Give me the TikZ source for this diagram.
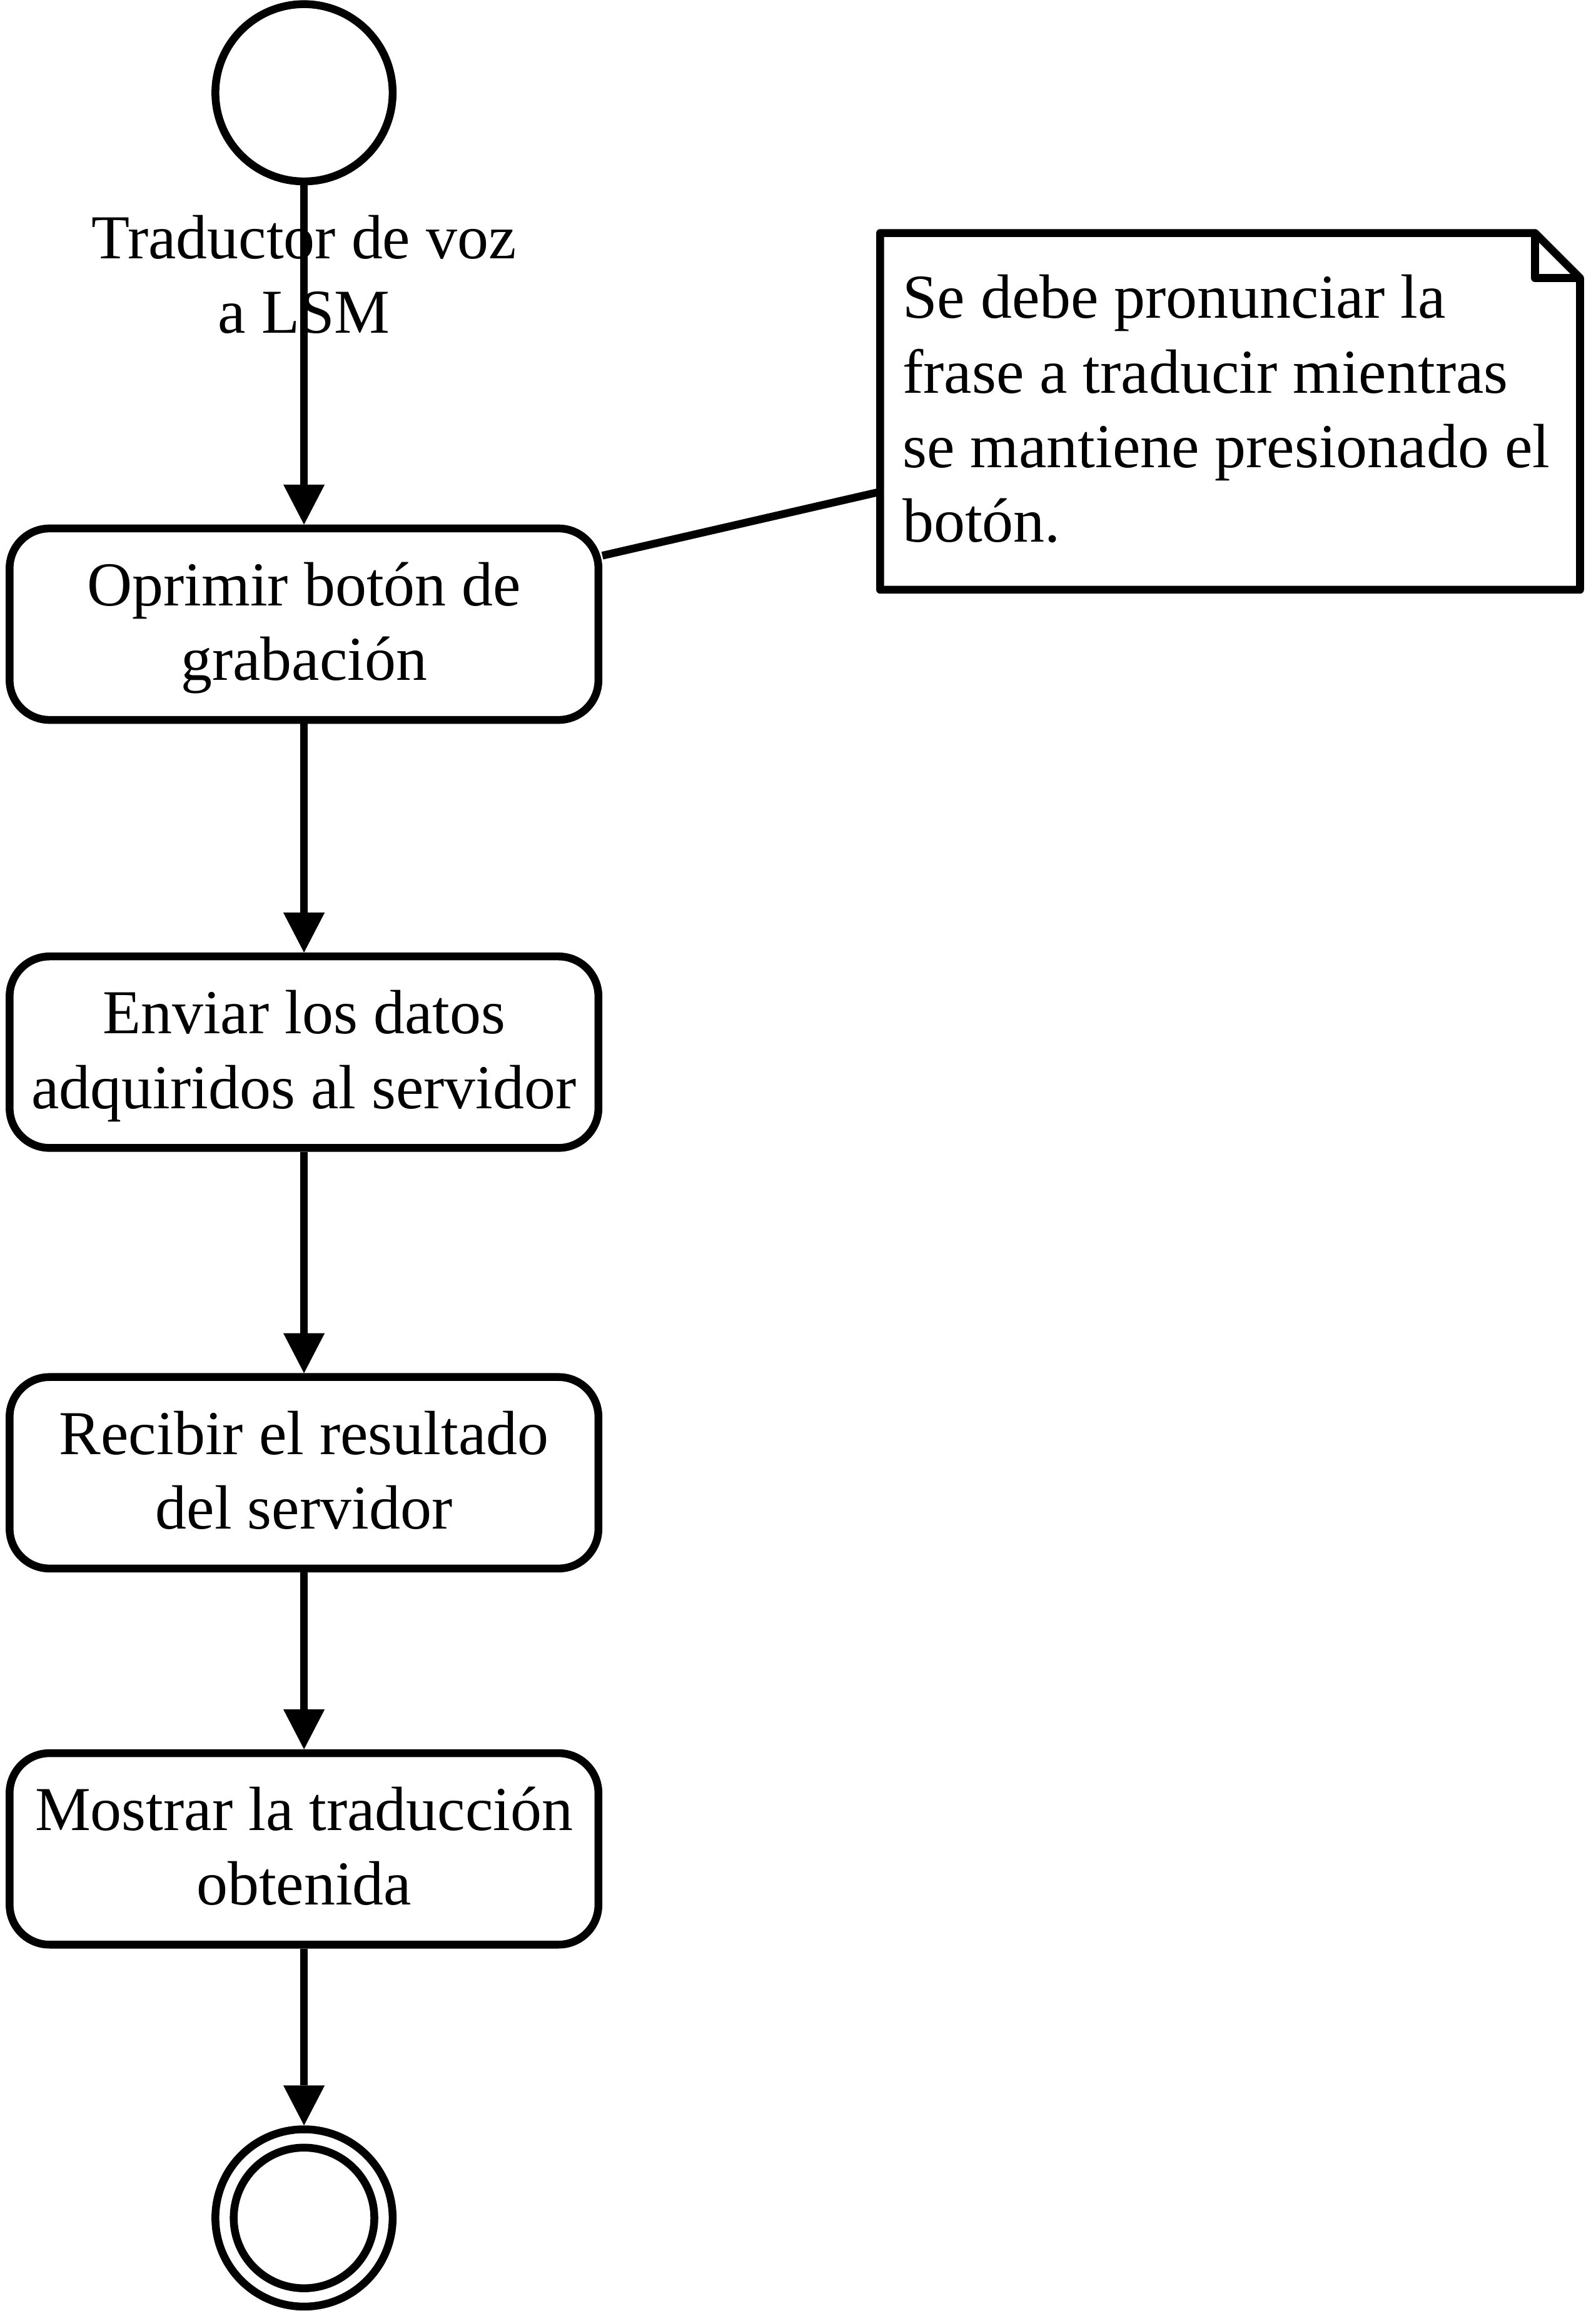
\documentclass[tikz,border=0pt]{standalone}
\usepackage{fontspec}
\setmainfont{Liberation Serif}
\usetikzlibrary{arrows.meta}
\newcommand{\topst}{\rule{0pt}{17.75pt}}
\newcommand{\botst}{\rule[-5pt]{0pt}{5pt}}
\begin{document}
\begin{tikzpicture}[x=0.5pt,y=-0.5pt,
  lw/.style={line width=2.65pt},
  txtfont/.style={font=\fontsize{21.15pt}{25.25pt}\selectfont, inner sep=0pt},
  txt/.style={txtfont, align=center},
  activity/.style={lw, draw, rounded corners=13.5pt, minimum width=199.3pt, minimum height=64.8pt, txt},
  startend/.style={lw, draw, circle, minimum size=60pt, inner sep=0pt},
  notebox/.style={txtfont, inner xsep=7.6pt, inner ysep=0pt,
    minimum width=236.9pt, minimum height=120.75pt, outer sep=0pt},
  flow/.style={lw, -{Triangle[width=14pt,length=13.5pt,line width=0pt]}}]
\path[use as bounding box, fill=white] (0,0) rectangle (1080,1564.3);

\node[startend] (start) at (205.8,62.8) {};
\node[txt] (lbl) at (205.8,187.5) {\topst Traductor de voz\\a LSM\botst};
\node[activity] (a1) at (205.8,422.5) {\topst Oprimir botón de\\grabación\botst};
\node[activity] (a2) at (205.8,712.2) {\topst Enviar los datos\\adquiridos al servidor\botst};
\node[activity] (a3) at (205.8,996.9) {\topst Recibir el resultado\\del servidor\botst};
\node[activity] (a4) at (205.8,1251.5) {\topst Mostrar la traducción\\obtenida\botst};
\node[startend] (end) at (205.8,1501.3) {};
\draw[lw] (end.center) circle[radius=47.6];

\node[notebox] (note) at (832.7,278.45) {\makebox[221.7pt][l]{\vbox{%
  \hbox{\topst Se debe pronunciar la}%
  \hbox{frase a traducir mientras}%
  \hbox{se mantiene presionado el}%
  \hbox{botón.\botst}}}};
\draw[lw, line join=round] (note.north west) -- ([xshift=-15.25pt]note.north east)
  -- ([yshift=-15.25pt]note.north east) -- (note.south east) -- (note.south west) -- cycle;
\draw[lw, line join=round] ([xshift=-15.25pt]note.north east) |- ([yshift=-15.25pt]note.north east);

\draw[flow] (start) -- (a1);
\draw[flow] (a1) -- (a2);
\draw[flow] (a2) -- (a3);
\draw[flow] (a3) -- (a4);
\draw[flow] (a4) -- (end);
\draw[lw] (a1) -- (note);
\end{tikzpicture}
\end{document}
